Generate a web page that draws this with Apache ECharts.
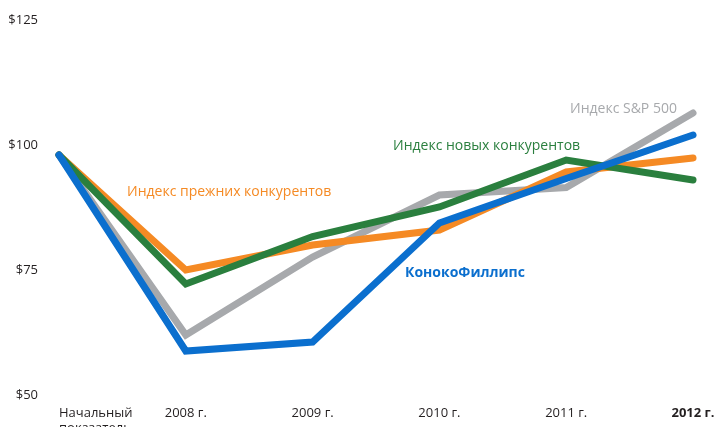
<!DOCTYPE html>
<html>
<head>
<meta charset="utf-8">
<script src="https://cdn.jsdelivr.net/npm/echarts@6/dist/echarts.min.js"></script>
<style>
  html, body { margin: 0; padding: 0; background: #fff; }
  #chart { width: 717px; height: 427px; }
</style>
</head>
<body>
<div id="chart"></div>
<script>
// категории по оси X
const categories = ['Начальный\nпоказатель', '2008 г.', '2009 г.', '2010 г.', '2011 г.', '2012 г.'];

// значения рядов
const spValues = [98, 62, 77.6, 90, 91.5, 106.4];
const oldPeersValues = [98, 75, 80, 83, 94.6, 97.4];
const newPeersValues = [98, 72.2, 81.7, 87.6, 97, 93];
const conocoValues = [98, 58.8, 60.6, 84.4, 93.3, 102];

// подписи оси Y
const yTicks = [50, 75, 100, 125];

const FONT = '"Open Sans", "Noto Sans", sans-serif';
const TEXT = '#231f20';

const chart = echarts.init(document.getElementById('chart'));

const makeLine = (name, data, color) => ({
  name,
  type: 'line',
  data,
  symbol: 'none',
  smooth: false,
  lineStyle: { color, width: 7, cap: 'round', join: 'miter' },
  emphasis: { disabled: true },
  z: 2
});

chart.setOption({
  animation: false,
  grid: { left: 59, right: 24, top: 20, bottom: 32, containLabel: false, outerBoundsMode: 'none' },
  xAxis: {
    type: 'category',
    data: categories,
    boundaryGap: false,
    axisLine: { show: false },
    axisTick: { show: false },
    axisLabel: {
      margin: 11,
      color: TEXT,
      fontFamily: FONT,
      fontSize: 13,
      lineHeight: 15,
      alignMinLabel: 'left',
      alignMaxLabel: 'center',
      formatter: (v, i) => (i === categories.length - 1 ? '{b|' + v + '}' : v),
      rich: {
        b: { fontWeight: 'bold', fontSize: 13, fontFamily: FONT, color: TEXT }
      }
    }
  },
  yAxis: {
    type: 'value',
    min: yTicks[0],
    max: yTicks[yTicks.length - 1],
    interval: 25,
    splitLine: { show: false },
    axisLine: { show: false },
    axisTick: { show: false },
    axisLabel: {
      margin: 21,
      color: TEXT,
      fontFamily: FONT,
      fontSize: 13,
      formatter: v => '$' + v
    }
  },
  series: [
    makeLine('Индекс S&P 500', spValues, '#a7a9ac'),
    makeLine('Индекс прежних конкурентов', oldPeersValues, '#f58a24'),
    makeLine('Индекс новых конкурентов', newPeersValues, '#2a7f3e'),
    makeLine('КонокоФиллипс', conocoValues, '#0b6fce')
  ],
  graphic: [
    { type: 'text', left: 570, top: 102, style: { text: 'Индекс S&P 500', fill: '#a7a9ac', font: '14px ' + FONT } },
    { type: 'text', left: 393, top: 139, style: { text: 'Индекс новых конкурентов', fill: '#2a7f3e', font: '14px ' + FONT } },
    { type: 'text', left: 127, top: 185, style: { text: 'Индекс прежних конкурентов', fill: '#f58a24', font: '14px ' + FONT } },
    { type: 'text', left: 405, top: 266, style: { text: 'КонокоФиллипс', fill: '#0b6fce', font: 'bold 14px ' + FONT } }
  ]
});
</script>
</body>
</html>
